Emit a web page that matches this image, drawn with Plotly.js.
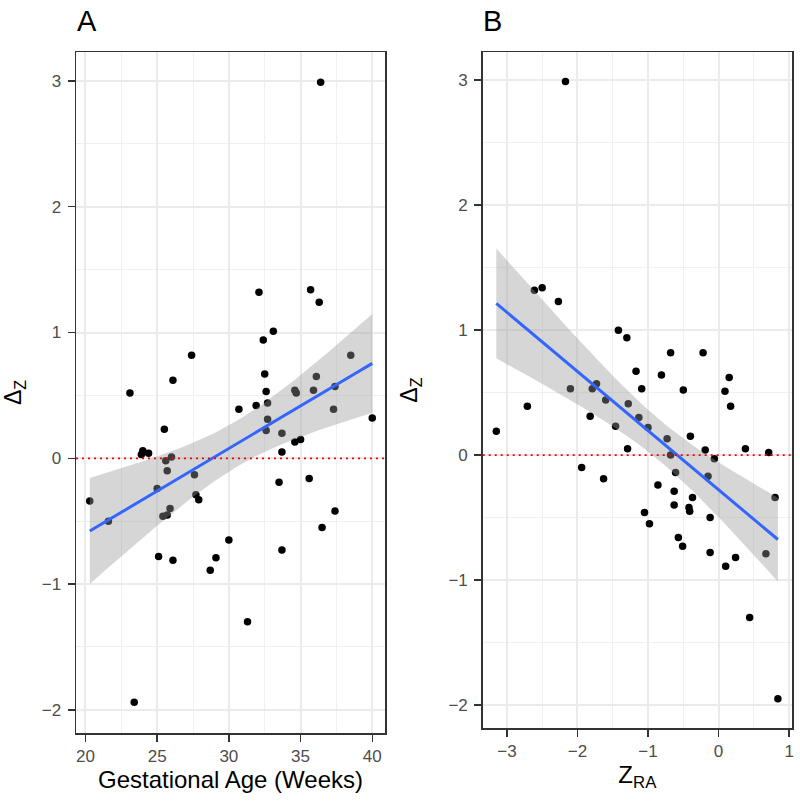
<!DOCTYPE html>
<html>
<head>
<meta charset="utf-8">
<script src="https://cdn.plot.ly/plotly-3.0.1.min.js"></script>
<style>html,body{margin:0;padding:0;background:#fff;}#chart{width:800px;height:802px;}</style>
</head>
<body>
<div id="chart"></div>
<script>
// Panel A: gestational age (weeks) vs Δz
const gestAge = [36.4,32.1,35.7,36.3,33.1,32.4,27.4,38.5,26.1,23.1,32.5,32.6,36.1,34.6,34.7,35.9,37.4,30.7,31.9,32.7,32.7,32.6,37.3,40.0,33.7,34.6,35.0,33.7,25.5,23.9,24.0,24.4,26.0,25.6,25.7,27.6,20.3,21.6,25.0,27.7,27.9,25.9,25.4,25.7,33.5,35.6,37.4,36.5,30.0,33.7,25.1,26.1,29.1,28.7,31.3,23.4];
const dzA = [2.99,1.32,1.34,1.24,1.01,0.94,0.82,0.82,0.62,0.52,0.67,0.53,0.65,0.54,0.52,0.54,0.57,0.39,0.42,0.44,0.31,0.22,0.39,0.32,0.20,0.13,0.15,0.05,0.23,0.03,0.06,0.04,0.01,-0.02,-0.10,-0.13,-0.34,-0.50,-0.24,-0.29,-0.33,-0.40,-0.46,-0.45,-0.19,-0.16,-0.42,-0.55,-0.65,-0.73,-0.78,-0.81,-0.79,-0.89,-1.30,-1.94];

// Panel B: Z_RA vs Δz
const zRA = [-2.17,-2.61,-2.50,-2.27,-1.42,-1.30,-0.68,-0.22,-1.17,-0.81,0.15,0.09,-0.50,-1.09,-2.10,-1.79,-1.73,0.17,-2.71,-1.60,-1.28,-1.82,-1.13,-1.46,-1.00,-3.15,-0.40,-0.73,-1.29,-0.19,0.38,0.71,-0.68,-0.06,-0.61,-1.94,-0.15,-1.63,-0.86,-0.63,-0.37,-0.63,-0.42,-0.41,0.80,-1.05,-0.98,-0.12,-0.57,-0.51,-0.12,0.67,0.24,0.10,0.44,0.84];
const dzB = [2.99,1.32,1.34,1.23,1.00,0.94,0.82,0.82,0.67,0.64,0.62,0.51,0.52,0.53,0.53,0.53,0.57,0.39,0.39,0.44,0.41,0.31,0.30,0.23,0.22,0.19,0.15,0.13,0.05,0.04,0.05,0.02,0.00,-0.03,-0.14,-0.10,-0.17,-0.19,-0.24,-0.29,-0.34,-0.40,-0.42,-0.45,-0.34,-0.46,-0.55,-0.50,-0.66,-0.73,-0.78,-0.79,-0.82,-0.89,-1.30,-1.95];

const panelTitles = ["A", "B"];
const xTitles = ["Gestational Age (Weeks)", "Z<sub>RA</sub>"];
const yTitle = "Δ<sub>Z</sub>";

// Linear fit with 95% confidence band (like geom_smooth(method = "lm"))
function lmFit(x, y, nGrid) {
  const n = x.length;
  const mx = x.reduce((s, v) => s + v, 0) / n;
  const my = y.reduce((s, v) => s + v, 0) / n;
  let sxx = 0, sxy = 0;
  for (let i = 0; i < n; i++) { sxx += (x[i]-mx)*(x[i]-mx); sxy += (x[i]-mx)*(y[i]-my); }
  const b = sxy / sxx, a = my - b * mx;
  let sse = 0;
  for (let i = 0; i < n; i++) { const r = y[i] - (a + b*x[i]); sse += r*r; }
  const s = Math.sqrt(sse / (n - 2));
  const tq = 2.0049; // t(0.975, df = 54)
  const xmin = Math.min(...x), xmax = Math.max(...x);
  const gx = [], fy = [], up = [], lo = [];
  for (let k = 0; k < nGrid; k++) {
    const g = xmin + (xmax - xmin) * k / (nGrid - 1);
    const yh = a + b * g;
    const se = s * Math.sqrt(1/n + (g-mx)*(g-mx)/sxx);
    gx.push(g); fy.push(yh); up.push(yh + tq*se); lo.push(yh - tq*se);
  }
  return {gx, fy, up, lo};
}

const fitA = lmFit(gestAge, dzA, 80);
const fitB = lmFit(zRA, dzB, 80);

function panelTraces(x, y, fit, xa, ya) {
  return [
    {x: x, y: y, xaxis: xa, yaxis: ya, type: 'scatter', mode: 'markers',
     marker: {color: '#000000', size: 7.5}, hoverinfo: 'skip', showlegend: false},
    {x: fit.gx.concat(fit.gx.slice().reverse()), y: fit.up.concat(fit.lo.slice().reverse()),
     xaxis: xa, yaxis: ya, type: 'scatter', mode: 'lines', fill: 'toself',
     fillcolor: 'rgba(153,153,153,0.4)', line: {width: 0}, hoverinfo: 'skip', showlegend: false},
    {x: fit.gx, y: fit.fy, xaxis: xa, yaxis: ya, type: 'scatter', mode: 'lines',
     line: {color: '#3366FF', width: 3}, hoverinfo: 'skip', showlegend: false}
  ];
}

const data = panelTraces(gestAge, dzA, fitA, 'x', 'y').concat(panelTraces(zRA, dzB, fitB, 'x2', 'y2'));

const FONT = 'Liberation Sans, Arial, Helvetica, sans-serif';
const tickFont = {family: FONT, size: 17, color: '#4D4D4D'};
const titleFont = {family: FONT, size: 24, color: '#000000'};
const yTitleFont = {family: FONT, size: 23, color: '#000000'};

function axisCommon(extra) {
  return Object.assign({
    showgrid: true, gridcolor: '#EBEBEB', gridwidth: 2,
    zeroline: false, showline: true, mirror: true, linecolor: '#333333', linewidth: 1.5,
    ticks: 'outside', ticklen: 7, tickwidth: 1.5, tickcolor: '#333333',
    tickfont: tickFont, automargin: false
  }, extra);
}

const layout = {
  width: 800, height: 802,
  margin: {l: 76, r: 8, t: 52, b: 69},
  paper_bgcolor: '#FFFFFF', plot_bgcolor: '#FFFFFF',
  font: {family: FONT},
  xaxis: axisCommon({domain: [0, 0.4316], anchor: 'y', range: [19.34, 40.89], dtick: 5, tick0: 0,
    minor: {dtick: 2.5, showgrid: true, gridcolor: '#F0F0F0', gridwidth: 1},
    title: {text: xTitles[0], font: titleFont, standoff: 1}}),
  yaxis: axisCommon({domain: [0, 1], anchor: 'x', range: [-2.184, 3.23], dtick: 1, tick0: 0,
    minor: {dtick: 0.5, showgrid: true, gridcolor: '#F0F0F0', gridwidth: 1},
    ticklabelstandoff: 3,
    title: {text: yTitle, font: yTitleFont, standoff: 24}}),
  xaxis2: axisCommon({domain: [0.568, 1.0], anchor: 'y2', range: [-3.343, 1.04], dtick: 1, tick0: 0,
    minor: {dtick: 0.5, showgrid: true, gridcolor: '#F0F0F0', gridwidth: 1},
    title: {text: xTitles[1], font: titleFont, standoff: 4}}),
  yaxis2: axisCommon({domain: [0.007, 1], anchor: 'x2', range: [-2.186, 3.226], dtick: 1, tick0: 0,
    minor: {dtick: 0.5, showgrid: true, gridcolor: '#F0F0F0', gridwidth: 1},
    ticklabelstandoff: 3,
    title: {text: yTitle, font: yTitleFont, standoff: 24}}),
  shapes: [
    {type: 'line', xref: 'x domain', yref: 'y', x0: 0, x1: 1, y0: 0, y1: 0,
     line: {color: '#FF0000', width: 1.8, dash: '2px,4px'}, layer: 'above'},
    {type: 'line', xref: 'x2 domain', yref: 'y2', x0: 0, x1: 1, y0: 0, y1: 0,
     line: {color: '#FF0000', width: 1.8, dash: '2px,4px'}, layer: 'above'}
  ],
  annotations: [
    {text: panelTitles[0], xref: 'paper', yref: 'paper', x: 0, y: 1, yanchor: 'middle', xanchor: 'center',
     showarrow: false, font: {family: FONT, size: 29, color: '#000000'}},
    {text: panelTitles[1], xref: 'paper', yref: 'paper', x: 0, y: 1, yanchor: 'middle', xanchor: 'center',
     showarrow: false, font: {family: FONT, size: 29, color: '#000000'}}
  ]
};
// annotation paper coords are relative to the plot area; convert from pixel positions
(function fixAnn() {
  const W = 800 - 76 - 8, H = 802 - 52 - 69;
  layout.annotations[0].x = (86.7 - 76) / W; layout.annotations[0].y = (802 - 69 - 21) / H;
  layout.annotations[1].x = (492.5 - 76) / W; layout.annotations[1].y = (802 - 69 - 21) / H;
})();

Plotly.newPlot('chart', data, layout, {staticPlot: true, displayModeBar: false});
</script>
</body>
</html>
